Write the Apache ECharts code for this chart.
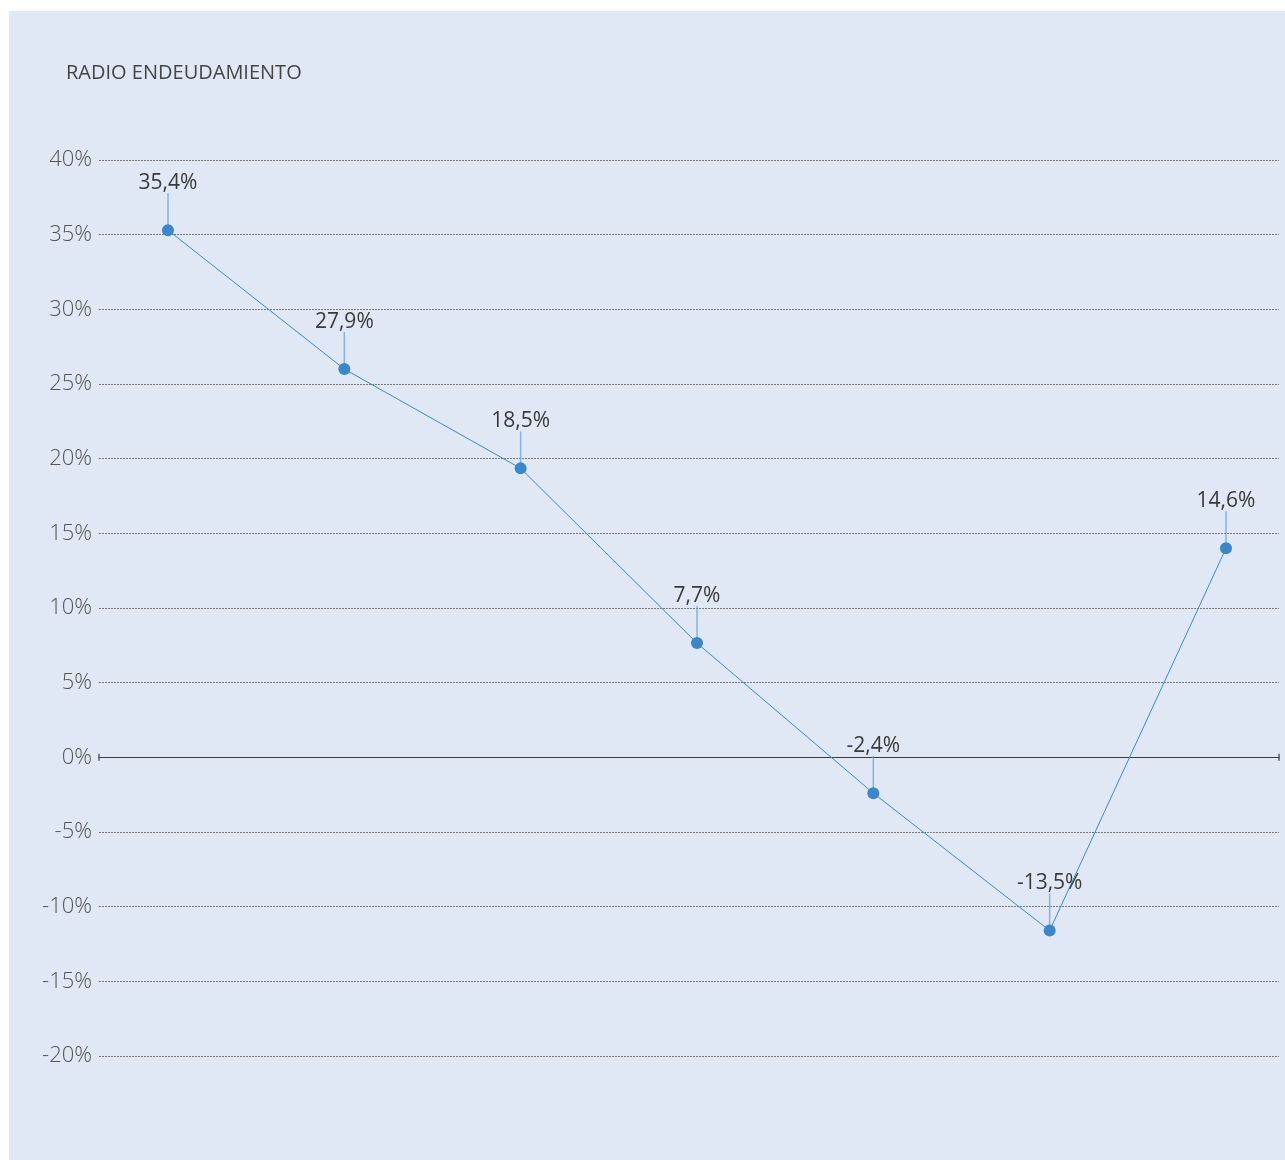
<!DOCTYPE html>
<html>
<head>
<meta charset="utf-8">
<script src="https://cdn.jsdelivr.net/npm/echarts@6/dist/echarts.min.js"></script>
<style>
html,body{margin:0;padding:0;background:#ffffff;}
#c{width:1285px;height:1160px;}
</style>
</head>
<body>
<div id="c"></div>
<script>
// Data (plotted positions and their printed labels)
const categories = ['1', '2', '3', '4', '5', '6', '7'];
const values = [35.3, 26.0, 19.35, 7.65, -2.4, -11.6, 14.0];
const labels = ['35,4%', '27,9%', '18,5%', '7,7%', '-2,4%', '-13,5%', '14,6%'];
const yTicks = { min: -20, max: 40, step: 5 };

const pts = values.map((v, i) => [i, v]);
const font = '"Open Sans", "Noto Sans", sans-serif';

const chart = echarts.init(document.getElementById('c'), null, { renderer: 'canvas' });
chart.setOption({
  backgroundColor: '#ffffff',
  animation: false,
  graphic: [{
    type: 'rect', z: -10, silent: true,
    shape: { x: 9, y: 11, width: 1276, height: 1149 },
    style: { fill: '#dfe8f4' }
  }],
  title: {
    text: 'RADIO ENDEUDAMIENTO',
    left: 61, top: 58,
    textStyle: { fontFamily: font, fontSize: 20, fontWeight: 'normal', color: '#444444' }
  },
  grid: { left: 99, right: 6, top: 160, bottom: 104, containLabel: false },
  xAxis: {
    type: 'value',
    min: -0.3913, max: 6.3006,
    axisLabel: { show: false },
    axisTick: { show: false },
    splitLine: { show: false },
    axisLine: {
      show: true, onZero: true,
      lineStyle: { color: '#3c3c3c', width: 1.2 },
      symbol: ['rect', 'rect'], symbolSize: [7, 1.2]
    }
  },
  yAxis: {
    type: 'value',
    min: yTicks.min, max: yTicks.max, interval: yTicks.step,
    axisLine: { show: false },
    axisTick: { show: false },
    axisLabel: {
      formatter: v => v + '%', margin: 7,
      fontFamily: font, fontSize: 22, fontWeight: 300, color: '#555555',
      padding: [3, 0, 0, 0]
    },
    splitLine: {
      show: true,
      lineStyle: { color: '#7a7a7a', type: [2, 1], width: 1 }
    }
  },
  series: [
    {
      type: 'scatter',
      data: pts,
      symbol: 'rect',
      symbolSize: [1.5, 32],
      symbolOffset: [0, -21],
      itemStyle: { color: '#6ea6da' },
      silent: true, z: 1
    },
    {
      type: 'line',
      data: pts,
      symbol: 'circle',
      symbolSize: 12,
      lineStyle: { color: '#3f88c9', width: 1 },
      itemStyle: { color: '#3d86c8' },
      label: {
        show: true,
        position: 'top',
        distance: 31,
        formatter: p => labels[p.dataIndex],
        fontFamily: font, fontSize: 21, color: '#3a3a3a'
      },
      z: 3
    }
  ]
});
</script>
</body>
</html>
